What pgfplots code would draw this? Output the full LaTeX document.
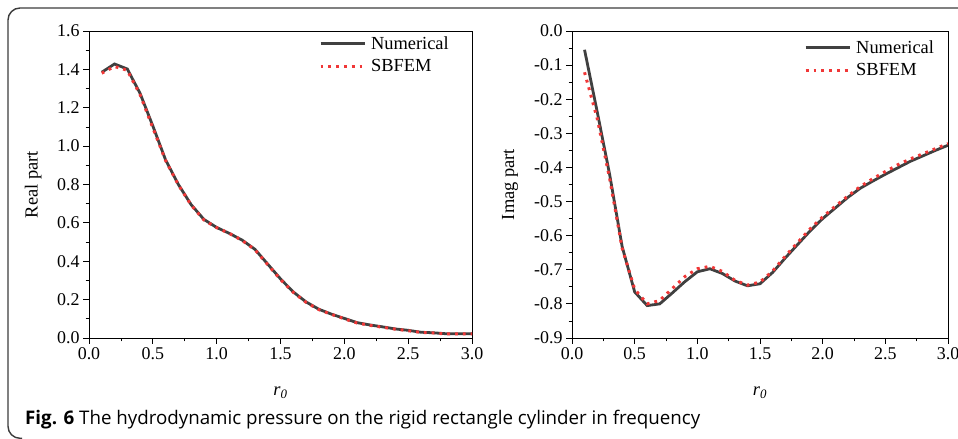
\documentclass[border=0pt]{standalone}
\usepackage{pgfplots}
\pgfplotsset{compat=1.18}
\usepackage{pgfplotstable}
\usepackage{fontspec}
\setmainfont{Liberation Serif}
\newfontfamily\capfont{Open Sans}
\definecolor{numgray}{RGB}{64,64,64}
\definecolor{sbred}{RGB}{240,55,55}
\definecolor{framegray}{RGB}{60,60,60}

\pgfplotstableread{
x    num     sb
0.1  1.385   1.380
0.2  1.428   1.415
0.3  1.402   1.395
0.4  1.275   1.268
0.5  1.105   1.095
0.6  0.928   0.925
0.7  0.800   0.798
0.8  0.695   0.693
0.9  0.618   0.615
1.0  0.576   0.575
1.1  0.545   0.545
1.2  0.510   0.508
1.3  0.462   0.460
1.4  0.385   0.382
1.5  0.308   0.305
1.6  0.240   0.238
1.7  0.188   0.186
1.8  0.150   0.148
1.9  0.124   0.123
2.0  0.102   0.100
2.1  0.080   0.078
2.2  0.068   0.066
2.3  0.058   0.056
2.4  0.047   0.046
2.5  0.040   0.038
2.6  0.030   0.029
2.7  0.027   0.026
2.8  0.022   0.021
2.9  0.022   0.021
3.0  0.022   0.021
}\realtab

\pgfplotstableread{
x    num      sb
0.1  -0.055   -0.121
0.2  -0.235   -0.255
0.3  -0.420   -0.432
0.4  -0.632   -0.637
0.5  -0.765   -0.757
0.6  -0.805   -0.800
0.7  -0.800   -0.790
0.8  -0.768   -0.755
0.9  -0.735   -0.720
1.0  -0.706   -0.697
1.1  -0.697   -0.690
1.2  -0.711   -0.705
1.3  -0.733   -0.731
1.4  -0.747   -0.745
1.5  -0.741   -0.736
1.6  -0.708   -0.704
1.7  -0.666   -0.661
1.8  -0.626   -0.620
1.9  -0.586   -0.580
2.0  -0.550   -0.545
2.1  -0.519   -0.514
2.2  -0.488   -0.484
2.3  -0.461   -0.456
2.4  -0.440   -0.433
2.5  -0.420   -0.412
2.6  -0.401   -0.392
2.7  -0.382   -0.375
2.8  -0.366   -0.360
2.9  -0.350   -0.345
3.0  -0.335   -0.330
}\imagtab

\pgfplotsset{
  panel/.style={
    scale only axis,
    anchor=south west,
    height=307bp,
    xmin=0, xmax=3,
    xtick={0,0.5,...,3.0},
    minor x tick num=1,
    minor y tick num=1,
    tick pos=left,
    tick align=outside,
    major tick length=6bp,
    minor tick length=3.5bp,
    axis line style={line width=0.9bp},
    every tick/.style={black, line width=0.8bp},
    /pgf/number format/.cd, fixed, fixed zerofill, precision=1, assume math mode=true,
    /pgfplots/.cd,
    tick label style={font=\fontsize{18}{18}\selectfont},
    label style={font=\fontsize{18.5}{18.5}\selectfont},
    xlabel={\textit{r}\textsubscript{\textit{0}}},
    xlabel style={at={(axis description cs:0.5,-0.178)}, anchor=center},
    legend cell align=left,
    legend style={draw=none, fill=none, inner sep=0pt,
      font=\fontsize{18.5}{18.5}\selectfont,
      row sep=5bp,
      nodes={inner xsep=5bp}},
    legend image code/.code={\draw[##1] (0bp,0bp) -- (44bp,0bp);},
  },
  numline/.style={numgray, line width=2.8bp},
  sbline/.style={sbred, line width=3bp, dash pattern=on 2.8bp off 5bp},
}

\begin{document}
\begin{tikzpicture}[x=1bp, y=1bp]
\useasboundingbox (0,0) rectangle (958,439);
\draw[framegray, line width=1.4bp, rounded corners=12bp]
  (958,431) -- (8,431) -- (8,0.7) -- (22,0.7);

\begin{axis}[panel, at={(89bp,101bp)}, width=383bp,
  ymin=0, ymax=1.6, ytick={0,0.2,...,1.6},
  ylabel={Real part},
  ylabel style={at={(axis description cs:-0.146,0.5)}, anchor=center},
  legend style={at={(axis description cs:0.600,0.99)}, anchor=north west},
]
\addplot[numline] table[x=x, y=num] {\realtab};
\addlegendentry{Numerical}
\addplot[sbline] table[x=x, y=sb] {\realtab};
\addlegendentry{SBFEM}
\end{axis}

\begin{axis}[panel, at={(572bp,101bp)}, width=376bp,
  ymin=-0.9, ymax=0, ytick={-0.9,-0.8,...,0.0},
  ylabel={Imag part},
  ylabel style={at={(axis description cs:-0.165,0.5)}, anchor=center},
  legend style={at={(axis description cs:0.617,0.977)}, anchor=north west},
]
\addplot[numline] table[x=x, y=num] {\imagtab};
\addlegendentry{Numerical}
\addplot[sbline] table[x=x, y=sb] {\imagtab};
\addlegendentry{SBFEM}
\end{axis}

\node[anchor=base west, inner sep=0pt, font=\capfont\fontsize{18.8}{18.8}\selectfont]
  at (25,14) {\textbf{Fig. 6} The hydrodynamic pressure on the rigid rectangle cylinder in frequency};
\end{tikzpicture}
\end{document}
